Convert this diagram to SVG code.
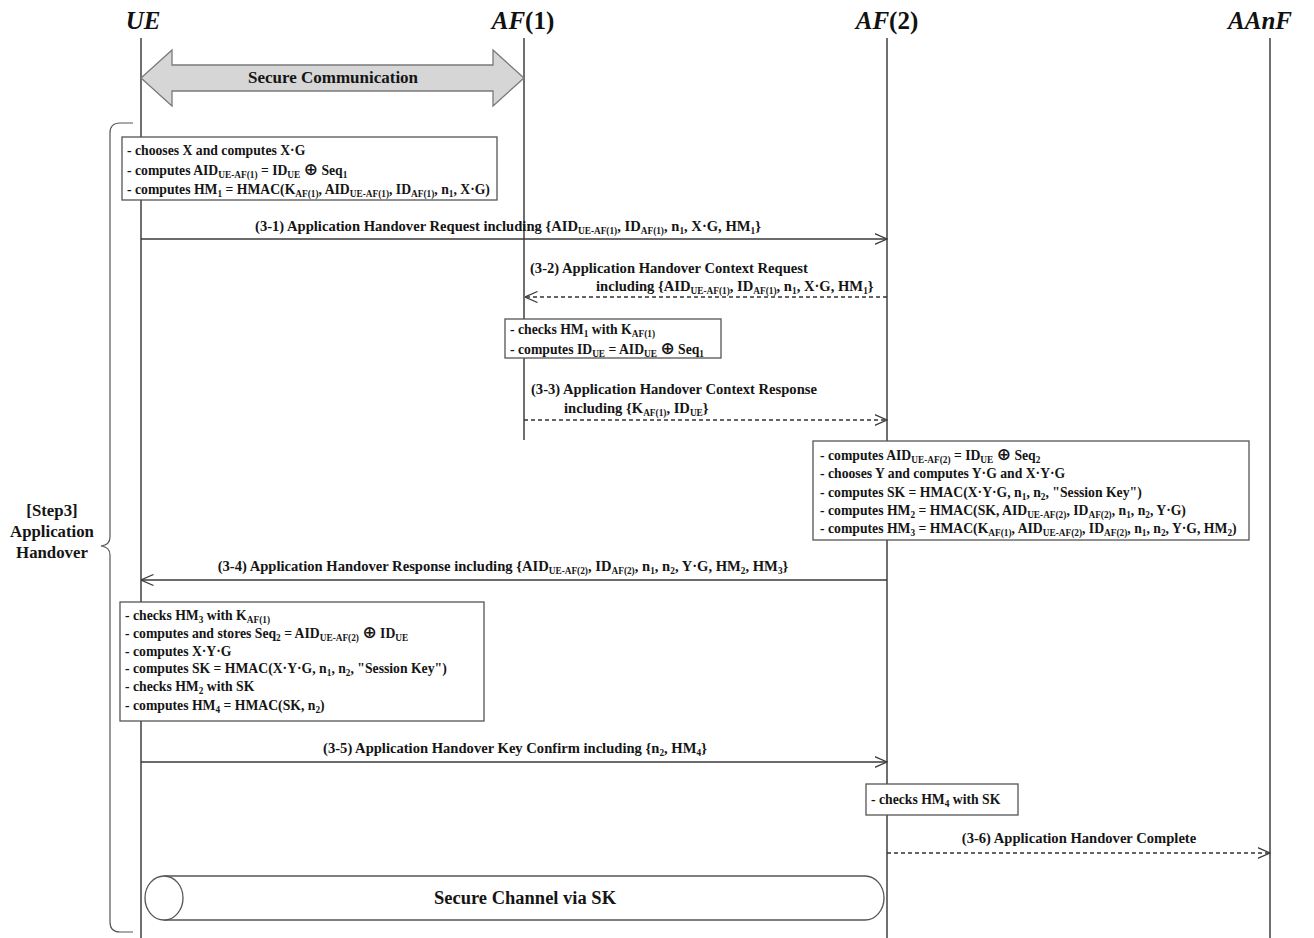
<svg xmlns="http://www.w3.org/2000/svg" width="1314" height="938" viewBox="0 0 1314 938">
  <defs>
    <style>
      .t{font-family:"Liberation Serif","Times New Roman",serif;font-weight:bold;font-size:13.7px;fill:#151515}
      .l{font-size:14.6px}
      .s{font-size:9.3px;baseline-shift:-3px}
      .x{font-family:"DejaVu Sans",sans-serif;font-weight:bold;font-size:17px}
      .hd{font-family:"Liberation Serif","Times New Roman",serif;font-weight:bold;font-size:25px;fill:#111}
      .it{font-style:italic}
      .life{stroke:#222;stroke-width:1.3;fill:none}
      .box{fill:#fff;stroke:#555;stroke-width:1.3}
      .msg{stroke:#3a3a3a;stroke-width:1.3;fill:none;marker-end:url(#open)}
      .dash{stroke-dasharray:4 3;stroke-width:1.5;stroke:#333}
      .side{font-size:16.8px}
    </style>
    <marker id="open" viewBox="0 0 13 12" refX="12.5" refY="6" markerWidth="13" markerHeight="12" markerUnits="userSpaceOnUse" orient="auto">
      <path d="M0,0.5 L12.5,6 L0,11.5" fill="none" stroke="#3a3a3a" stroke-width="1.2" stroke-dasharray="none"/>
    </marker>
  </defs>
  <rect width="1314" height="938" fill="#fff"/>

  <!-- participants -->
  <g id="ue">
    <text class="hd it" x="143" y="29" text-anchor="middle">UE</text>
    <line class="life" x1="141" y1="38" x2="141" y2="938"/>
  </g>
  <g id="af1">
    <text class="hd" x="523" y="29" text-anchor="middle"><tspan class="it">AF</tspan>(1)</text>
    <line class="life" x1="524" y1="38" x2="524" y2="440"/>
  </g>
  <g id="af2">
    <text class="hd" x="887" y="29" text-anchor="middle"><tspan class="it">AF</tspan>(2)</text>
    <line class="life" x1="887" y1="38" x2="887" y2="938"/>
  </g>
  <g id="aanf">
    <text class="hd it" x="1260" y="29" text-anchor="middle">AAnF</text>
    <line class="life" x1="1270" y1="38" x2="1270" y2="938"/>
  </g>

  <!-- secure communication double arrow -->
  <g id="secure-communication">
    <polygon points="141,78 172,50 172,65 493,65 493,50 524,78 493,106 493,91 172,91 172,106" fill="#d6d6d6" stroke="#7a7a7a" stroke-width="1.3"/>
    <text class="t" style="font-size:17px" x="333" y="83" text-anchor="middle">Secure Communication</text>
  </g>

  <!-- step bracket -->
  <g id="step3">
    <path d="M133,123 L120,123 Q110,123 110,133 L110,537 Q110,545 101,546 Q110,547 110,555 L110,922 Q110,932 120,932 L133,932" fill="none" stroke="#555" stroke-width="1.2"/>
    <text class="t side" x="52" y="516" text-anchor="middle">[Step3]</text>
    <text class="t side" x="52" y="537" text-anchor="middle">Application</text>
    <text class="t side" x="52" y="558" text-anchor="middle">Handover</text>
  </g>

  <!-- connectors -->
  <g id="connectors">
    <line class="msg" x1="141" y1="239" x2="887" y2="239"/>
    <line class="msg dash" x1="887" y1="297" x2="525" y2="297"/>
    <line class="msg dash" x1="524" y1="420" x2="887" y2="420"/>
    <line class="msg" x1="887" y1="580" x2="141" y2="580"/>
    <line class="msg" x1="141" y1="762" x2="887" y2="762"/>
    <line class="msg dash" x1="887" y1="853" x2="1270" y2="853"/>
  </g>

  <!-- message labels -->
  <g id="labels">
    <text class="t l" x="508" y="231" text-anchor="middle">(3-1) Application Handover Request including {AID<tspan class="s">UE-AF(1)</tspan>, ID<tspan class="s">AF(1)</tspan>, n<tspan class="s">1</tspan>, X·G, HM<tspan class="s">1</tspan>}</text>
    <text class="t l" x="530" y="273">(3-2) Application Handover Context Request</text>
    <text class="t l" x="596" y="291">including {AID<tspan class="s">UE-AF(1)</tspan>, ID<tspan class="s">AF(1)</tspan>, n<tspan class="s">1</tspan>, X·G, HM<tspan class="s">1</tspan>}</text>
    <text class="t l" x="531" y="394">(3-3) Application Handover Context Response</text>
    <text class="t l" x="564" y="413">including {K<tspan class="s">AF(1)</tspan>, ID<tspan class="s">UE</tspan>}</text>
    <text class="t l" x="503" y="571" text-anchor="middle">(3-4) Application Handover Response including {AID<tspan class="s">UE-AF(2)</tspan>, ID<tspan class="s">AF(2)</tspan>, n<tspan class="s">1</tspan>, n<tspan class="s">2</tspan>, Y·G, HM<tspan class="s">2</tspan>, HM<tspan class="s">3</tspan>}</text>
    <text class="t l" x="515" y="753" text-anchor="middle">(3-5) Application Handover Key Confirm including {n<tspan class="s">2</tspan>, HM<tspan class="s">4</tspan>}</text>
    <text class="t l" x="1079" y="843" text-anchor="middle">(3-6) Application Handover Complete</text>
  </g>

  <!-- UE: initial computation -->
  <g id="ue-compute-1">
    <rect class="box" x="122" y="137" width="375" height="63"/>
    <text class="t" x="127" y="155">- chooses X and computes X·G</text>
    <text class="t" x="127" y="175">- computes AID<tspan class="s">UE-AF(1)</tspan> = ID<tspan class="s">UE</tspan> <tspan class="x">⊕</tspan> Seq<tspan class="s">1</tspan></text>
    <text class="t" x="127" y="194">- computes HM<tspan class="s">1</tspan> = HMAC(K<tspan class="s">AF(1)</tspan>, AID<tspan class="s">UE-AF(1)</tspan>, ID<tspan class="s">AF(1)</tspan>, n<tspan class="s">1</tspan>, X·G)</text>
  </g>

  <!-- AF(1): verification -->
  <g id="af1-check">
    <rect class="box" x="505" y="319" width="216" height="39"/>
    <text class="t" x="510" y="334">- checks HM<tspan class="s">1</tspan> with K<tspan class="s">AF(1)</tspan></text>
    <text class="t" x="510" y="354">- computes ID<tspan class="s">UE</tspan> = AID<tspan class="s">UE</tspan> <tspan class="x">⊕</tspan> Seq<tspan class="s">1</tspan></text>
  </g>

  <!-- AF(2): key derivation -->
  <g id="af2-compute">
    <rect class="box" x="813" y="441" width="436" height="99"/>
    <text class="t" x="820" y="460">- computes AID<tspan class="s">UE-AF(2)</tspan> = ID<tspan class="s">UE</tspan> <tspan class="x">⊕</tspan> Seq<tspan class="s">2</tspan></text>
    <text class="t" x="820" y="478">- chooses Y and computes Y·G and X·Y·G</text>
    <text class="t" x="820" y="497">- computes SK = HMAC(X·Y·G, n<tspan class="s">1</tspan>, n<tspan class="s">2</tspan>, "Session Key")</text>
    <text class="t" x="820" y="515">- computes HM<tspan class="s">2</tspan> = HMAC(SK, AID<tspan class="s">UE-AF(2)</tspan>, ID<tspan class="s">AF(2)</tspan>, n<tspan class="s">1</tspan>, n<tspan class="s">2</tspan>, Y·G)</text>
    <text class="t" x="820" y="533">- computes HM<tspan class="s">3</tspan> = HMAC(K<tspan class="s">AF(1)</tspan>, AID<tspan class="s">UE-AF(2)</tspan>, ID<tspan class="s">AF(2)</tspan>, n<tspan class="s">1</tspan>, n<tspan class="s">2</tspan>, Y·G, HM<tspan class="s">2</tspan>)</text>
  </g>

  <!-- UE: verification and key derivation -->
  <g id="ue-compute-2">
    <rect class="box" x="120" y="602" width="364" height="119"/>
    <text class="t" x="125" y="620">- checks HM<tspan class="s">3</tspan> with K<tspan class="s">AF(1)</tspan></text>
    <text class="t" x="125" y="638">- computes and stores Seq<tspan class="s">2</tspan> = AID<tspan class="s">UE-AF(2)</tspan> <tspan class="x">⊕</tspan> ID<tspan class="s">UE</tspan></text>
    <text class="t" x="125" y="656">- computes X·Y·G</text>
    <text class="t" x="125" y="673">- computes SK = HMAC(X·Y·G, n<tspan class="s">1</tspan>, n<tspan class="s">2</tspan>, "Session Key")</text>
    <text class="t" x="125" y="691">- checks HM<tspan class="s">2</tspan> with SK</text>
    <text class="t" x="125" y="710">- computes HM<tspan class="s">4</tspan> = HMAC(SK, n<tspan class="s">2</tspan>)</text>
  </g>

  <!-- AF(2): key confirmation check -->
  <g id="af2-check">
    <rect class="box" x="866" y="784" width="152" height="31"/>
    <text class="t" x="871" y="804">- checks HM<tspan class="s">4</tspan> with SK</text>
  </g>

  <!-- secure channel pipe -->
  <g id="secure-channel">
    <path d="M164,876 L865,876 A19,22 0 0 1 865,920 L164,920" fill="#fff" stroke="#555" stroke-width="1.3"/>
    <ellipse cx="164" cy="898" rx="19" ry="22" fill="#fff" stroke="#555" stroke-width="1.3"/>
    <text class="t" style="font-size:18.5px" x="525" y="904" text-anchor="middle">Secure Channel via SK</text>
  </g>
</svg>
